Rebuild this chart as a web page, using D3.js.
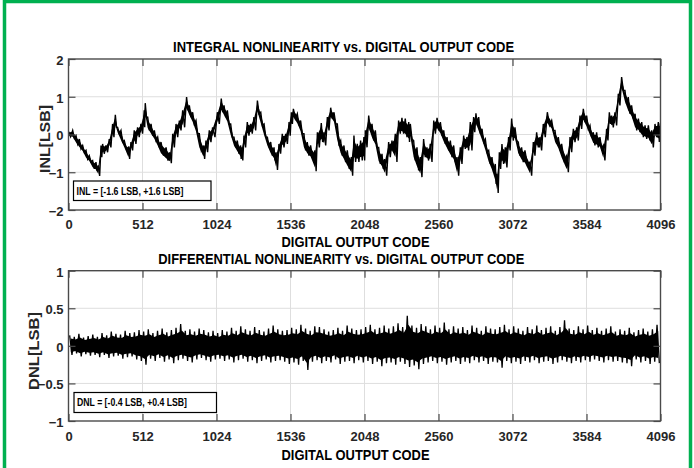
<!DOCTYPE html>
<html><head><meta charset="utf-8">
<script src="https://cdn.jsdelivr.net/npm/d3@7"></script>
<style>
body{margin:0;background:#fff}
svg{display:block}
text{font-family:"Liberation Sans",Arial,Helvetica,sans-serif;font-weight:bold}
</style>
</head><body>
<svg id="c" width="694" height="468"></svg>
<script>
// ---------------- DATA ----------------
const xTicks = [0, 512, 1024, 1536, 2048, 2560, 3072, 3584, 4096];
const inlYTicks = [-2, -1, 0, 1, 2];
const dnlYTicks = [-1, -0.5, 0, 0.5, 1];
const inlTitle = "INTEGRAL NONLINEARITY vs. DIGITAL OUTPUT CODE";
const dnlTitle = "DIFFERENTIAL NONLINEARITY vs. DIGITAL OUTPUT CODE";
const xLabel = "DIGITAL OUTPUT CODE";
const inlLegend = "INL = [-1.6 LSB, +1.6 LSB]";
const dnlLegend = "DNL = [-0.4 LSB, +0.4 LSB]";

// INL: code, upper and lower extent of the noisy trace
const inlCode = [0,29,52,75,98,121,144,167,190,206,225,236,259,282,305,324,340,363,386,414,432,455,478,501,524,531,548,571,594,617,640,675,702,721,744,767,790,817,836,859,882,905,933,951,974,997,
1030,1057,1076,1099,1122,1145,1168,1191,1198,1214,1237,1260,1283,1307,1330,1353,1376,1399,1422,1436,1456,1479,1503,1526,1542,1556,1583,1606,1629,1652,1675,1705,1722,1749,1768,1791,1814,1837,1860,1883,1906,1929,1957,1975,1998,2021,2044,
2054,2077,2100,2123,2146,2169,2188,2215,2238,2261,2284,2307,2330,2354,2365,2388,2411,2434,2457,2480,2503,2527,2550,2573,2596,2619,2642,2665,2688,2711,2734,2757,2780,2803,2819,2838,2861,2884,2907,2930,2953,2965,2981,2999,3022,3045,
3066,3089,3112,3135,3158,3193,3216,3239,3262,3285,3313,3343,3366,3389,3412,3447,3470,3493,3516,3539,3562,3585,3608,3631,3654,3677,3700,3723,3742,3758,3781,3804,3827,3850,3873,3896,3920,3943,3966,3989,4012,4035,4058,4081,4095];
const inlHi = [0.08,0.11,-0.03,-0.12,-0.29,-0.42,-0.56,-0.69,-0.73,-0.82,-0.29,-0.25,-0.29,-0.12,0.28,0.52,0.19,0.11,-0.16,-0.34,-0.20,0.11,0.19,0.28,0.64,0.83,0.46,0.28,0.11,-0.07,-0.20,-0.34,-0.47,0.02,0.28,0.37,0.64,0.99,0.77,0.59,0.37,0.02,-0.29,-0.16,0.11,0.19,
0.59,0.95,0.77,0.64,0.28,-0.07,-0.16,-0.29,-0.34,-0.03,0.33,0.28,0.46,0.90,0.59,0.28,-0.07,-0.20,-0.34,-0.47,-0.25,0.02,0.02,0.33,0.59,0.68,0.55,0.37,0.02,-0.20,-0.29,-0.42,0.06,0.30,0.06,0.46,0.71,0.59,0.28,-0.16,-0.29,-0.42,-0.60,-0.03,-0.25,-0.16,-0.07,
0.11,0.50,0.28,0.11,-0.34,-0.51,-0.65,-0.20,-0.16,0.02,0.37,0.44,0.42,0.33,0.28,-0.16,-0.34,-0.60,-0.12,-0.34,-0.25,0.37,0.44,0.33,0.11,-0.07,-0.16,-0.29,-0.60,-0.34,-0.03,-0.07,0.33,0.46,0.56,0.46,0.15,-0.12,-0.42,-0.60,-0.78,-1.04,-0.47,-0.25,-0.34,-0.07,
0.42,0.19,-0.20,-0.34,-0.42,-0.73,-0.20,0.06,-0.07,0.28,0.59,0.37,0.11,-0.07,-0.25,-0.56,-0.07,0.15,0.19,0.50,0.68,0.50,0.24,0.06,0.06,-0.07,-0.29,0.15,0.59,0.50,0.59,1.08,1.52,1.17,0.99,0.77,0.55,0.42,0.33,0.24,0.24,0.11,0.28,0.33,0.30];
const inlLo = [-0.06,-0.10,-0.25,-0.38,-0.47,-0.65,-0.73,-0.91,-0.97,-1.10,-0.60,-0.51,-0.47,-0.34,-0.07,0.19,0.02,-0.20,-0.38,-0.65,-0.42,-0.25,-0.07,0.02,0.19,0.46,0.11,-0.03,-0.16,-0.34,-0.56,-0.69,-0.76,-0.34,-0.07,0.11,0.19,0.64,0.46,0.28,0.02,-0.42,-0.65,-0.47,-0.20,-0.07,
0.28,0.59,0.46,0.28,-0.07,-0.34,-0.51,-0.65,-0.69,-0.34,-0.03,0.02,0.11,0.55,0.24,-0.07,-0.34,-0.56,-0.69,-0.94,-0.51,-0.34,-0.25,-0.03,0.28,0.42,0.24,0.02,-0.42,-0.56,-0.65,-0.97,-0.34,-0.20,-0.29,0.11,0.42,0.28,-0.25,-0.56,-0.73,-0.91,-1.09,-0.73,-0.73,-0.69,-0.69,
-0.34,0.11,-0.16,-0.34,-0.78,-0.91,-1.09,-0.60,-0.47,-0.73,0.02,0.02,-0.07,-0.20,-0.12,-0.69,-0.95,-1.13,-0.60,-0.69,-0.73,0.02,0.11,-0.03,-0.25,-0.42,-0.60,-0.73,-1.09,-0.78,-0.38,-0.42,-0.42,0.06,0.24,0.02,-0.20,-0.47,-0.78,-1.00,-1.31,-1.55,-0.91,-0.78,-0.87,-0.42,
-0.16,-0.16,-0.56,-0.73,-0.82,-1.09,-0.56,-0.34,-0.42,-0.07,0.24,0.11,-0.25,-0.42,-0.69,-1.00,-0.47,-0.20,-0.16,0.15,0.33,0.15,-0.07,-0.29,-0.34,-0.38,-0.69,-0.16,0.28,0.19,0.24,0.77,1.17,0.81,0.55,0.42,0.11,0.06,-0.07,-0.12,-0.16,-0.34,-0.07,-0.20,-0.10];

// DNL: upper and lower extent per 32-code bin
const dnlBin = 32;
const dnlHi = [0.14,0.12,0.16,0.11,0.13,0.15,0.12,0.17,0.14,0.19,0.16,0.15,0.20,0.17,0.18,0.21,
0.19,0.22,0.17,0.20,0.23,0.18,0.21,0.24,0.29,0.20,0.22,0.19,0.23,0.21,0.18,0.20,
0.17,0.21,0.19,0.24,0.20,0.26,0.22,0.20,0.25,0.21,0.19,0.23,0.27,0.22,0.20,0.21,
0.24,0.22,0.28,0.23,0.20,0.26,0.25,0.22,0.19,0.21,0.24,0.20,0.27,0.23,0.21,0.22,
0.25,0.28,0.22,0.24,0.27,0.23,0.26,0.30,0.25,0.40,0.27,0.24,0.29,0.26,0.22,0.27,
0.24,0.31,0.22,0.26,0.23,0.25,0.21,0.27,0.24,0.20,0.26,0.23,0.22,0.25,0.28,0.22,
0.26,0.23,0.20,0.25,0.22,0.27,0.21,0.24,0.26,0.20,0.25,0.34,0.23,0.21,0.26,0.22,
0.27,0.21,0.24,0.20,0.23,0.26,0.19,0.22,0.20,0.24,0.18,0.21,0.23,0.19,0.22,0.28];
const dnlLo = [-0.12,-0.10,-0.14,-0.11,-0.13,-0.12,-0.15,-0.12,-0.16,-0.14,-0.13,-0.17,-0.15,-0.14,-0.18,-0.20,
-0.25,-0.17,-0.20,-0.16,-0.21,-0.18,-0.23,-0.19,-0.17,-0.20,-0.22,-0.18,-0.16,-0.19,-0.21,-0.18,
-0.17,-0.20,-0.18,-0.22,-0.19,-0.17,-0.21,-0.19,-0.23,-0.20,-0.18,-0.22,-0.20,-0.19,-0.21,-0.24,
-0.22,-0.25,-0.20,-0.32,-0.21,-0.19,-0.23,-0.20,-0.22,-0.18,-0.24,-0.21,-0.20,-0.23,-0.19,-0.22,
-0.20,-0.24,-0.21,-0.27,-0.23,-0.22,-0.25,-0.21,-0.24,-0.28,-0.26,-0.31,-0.24,-0.22,-0.20,-0.23,
-0.21,-0.25,-0.22,-0.20,-0.24,-0.21,-0.23,-0.19,-0.22,-0.20,-0.24,-0.21,-0.22,-0.29,-0.20,-0.23,
-0.21,-0.24,-0.20,-0.22,-0.19,-0.23,-0.21,-0.20,-0.24,-0.22,-0.19,-0.21,-0.23,-0.20,-0.22,-0.19,
-0.21,-0.18,-0.20,-0.22,-0.19,-0.21,-0.20,-0.22,-0.23,-0.27,-0.18,-0.22,-0.20,-0.24,-0.21,-0.23];

// ---------------- DRAW ----------------
const svg = d3.select("#c");
const ink = "#262626";

// green frame
svg.append("rect").attr("x", 4.5).attr("y", 1.5).attr("width", 686).attr("height", 470)
  .attr("fill", "none").attr("stroke", "#00b050").attr("stroke-width", 3.5);

const x = d3.scaleLinear().domain([0, 4096]).range([68.5, 660.5]);

function fit(sel, w) { return sel.attr("textLength", w).attr("lengthAdjust", "spacingAndGlyphs"); }

function panel(cfg) {
  const y = d3.scaleLinear().domain(cfg.domain).range([cfg.y1, cfg.y0]);
  const g = svg.append("g");
  const clipId = cfg.id + "clip";
  svg.append("clipPath").attr("id", clipId).append("rect")
    .attr("x", x(0)).attr("y", cfg.y0).attr("width", x(4096) - x(0)).attr("height", cfg.y1 - cfg.y0);

  // grid
  g.append("g").selectAll("line").data(xTicks.slice(1, -1)).join("line")
    .attr("x1", d => x(d)).attr("x2", d => x(d)).attr("y1", cfg.y0).attr("y2", cfg.y1)
    .attr("stroke", "#dedede").attr("stroke-width", 1);
  g.append("g").selectAll("line").data(cfg.yTicks.slice(1, -1)).join("line")
    .attr("y1", d => y(d)).attr("y2", d => y(d)).attr("x1", x(0)).attr("x2", x(4096))
    .attr("stroke", "#dedede").attr("stroke-width", 1);

  // data
  const dg = g.append("g").attr("clip-path", `url(#${clipId})`);
  cfg.drawData(dg, y);

  // box
  g.append("rect").attr("x", x(0)).attr("y", cfg.y0).attr("width", x(4096) - x(0)).attr("height", cfg.y1 - cfg.y0)
    .attr("fill", "none").attr("stroke", "#4a4a4a").attr("stroke-width", 1.4);

  // inward ticks (bottom/top/left/right)
  const axB = d3.axisBottom(x).tickValues(xTicks).tickSizeInner(-7).tickSizeOuter(0).tickPadding(9).tickFormat(d3.format("d"));
  const gb = g.append("g").attr("transform", `translate(0,${cfg.y1})`).call(axB);
  const axT = d3.axisTop(x).tickValues(xTicks).tickSizeInner(-7).tickSizeOuter(0).tickFormat("");
  const gt = g.append("g").attr("transform", `translate(0,${cfg.y0})`).call(axT);
  const axL = d3.axisLeft(y).tickValues(cfg.yTicks).tickSizeInner(-7).tickSizeOuter(0).tickPadding(5).tickFormat(cfg.yFmt);
  const gl = g.append("g").attr("transform", `translate(${x(0)},0)`).call(axL);
  const axR = d3.axisRight(y).tickValues(cfg.yTicks).tickSizeInner(-7).tickSizeOuter(0).tickFormat("");
  const gr = g.append("g").attr("transform", `translate(${x(4096)},0)`).call(axR);
  [gb, gt, gl, gr].forEach(a => {
    a.select(".domain").remove();
    a.selectAll(".tick line").attr("stroke", "#4a4a4a").attr("stroke-width", 1.2);
    a.selectAll(".tick text").attr("fill", ink).attr("font-size", 13).attr("font-weight", "bold")
      .attr("font-family", '"Liberation Sans", Arial, sans-serif');
  });
  gb.selectAll(".tick text").attr("dy", null).attr("y", 0).attr("transform", `translate(0,${cfg.xTickBase - cfg.y1})`);
  gl.selectAll(".tick text").attr("dy", "0.42em");

  // titles
  fit(svg.append("text").attr("x", cfg.titleX).attr("y", cfg.titleY).attr("text-anchor", "middle")
    .attr("font-size", 15).attr("fill", "#000").text(cfg.title), cfg.titleW);
  fit(svg.append("text").attr("x", 355.5).attr("y", cfg.xlabY).attr("text-anchor", "middle")
    .attr("font-size", 15).attr("fill", "#000").text(xLabel), 148);
  fit(svg.append("text").attr("transform", `translate(${cfg.ylabX},${cfg.ylabY}) rotate(-90)`)
    .attr("text-anchor", "middle").attr("font-size", 15).attr("fill", ink).text(cfg.ylab), cfg.ylabW);

  // legend box
  svg.append("rect").attr("x", cfg.leg[0]).attr("y", cfg.leg[1]).attr("width", cfg.leg[2]).attr("height", cfg.leg[3])
    .attr("fill", "#fff").attr("stroke", "#000").attr("stroke-width", 1.2);
  fit(svg.append("text").attr("x", cfg.leg[0] + 3).attr("y", cfg.leg[1] + 13.5)
    .attr("font-size", 10.5).attr("fill", "#000").text(cfg.legText), cfg.legW);
}

// INL panel
panel({
  id: "inl", domain: [-2, 2], y0: 59, y1: 210, yTicks: inlYTicks, yFmt: d3.format("d"),
  xTickBase: 228.5, title: inlTitle, titleX: 343.6, titleY: 51.5, titleW: 341, xlabY: 246.5,
  ylab: "INL[LSB]", ylabX: 50, ylabY: 139, ylabW: 68,
  leg: [73.5, 181, 137.5, 19.5], legText: inlLegend, legW: 107,
  drawData: (dg, y) => {
    const pts = inlCode.map((c, i) => ({ c, hi: inlHi[i], lo: inlLo[i] }));
    const core = d3.area().x(d => x(d.c))
      .y0(d => y(0.82 * d.lo + 0.18 * d.hi)).y1(d => y(0.82 * d.hi + 0.18 * d.lo));
    dg.append("path").attr("d", core(pts)).attr("fill", "#000");
    const zz = [];
    pts.forEach((d, i) => {
      const nx = i < pts.length - 1 ? pts[i + 1].c : d.c;
      zz.push([x(d.c), y(d.hi)]);
      zz.push([x((d.c + nx) / 2), y(d.lo)]);
    });
    dg.append("path").attr("d", d3.line()(zz)).attr("fill", "none").attr("stroke", "#000").attr("stroke-width", 1.4);
  }
});

// DNL panel
panel({
  id: "dnl", domain: [-1, 1], y0: 270.7, y1: 421, yTicks: dnlYTicks, yFmt: d => d3.format("")(d),
  xTickBase: 440.5, title: dnlTitle, titleX: 341.3, titleY: 264, titleW: 366, xlabY: 459.5,
  ylab: "DNL[LSB]", ylabX: 38.5, ylabY: 351, ylabW: 78,
  leg: [74, 392.5, 142.5, 20], legText: dnlLegend, legW: 110,
  drawData: (dg, y) => {
    const pts = dnlHi.map((h, i) => ({ c: i * dnlBin, hi: h, lo: dnlLo[i] }));
    const core = d3.area().x(d => x(d.c + dnlBin / 2)).y0(d => y(0.7 * d.lo)).y1(d => y(0.7 * d.hi));
    dg.append("path").attr("d", core(pts)).attr("fill", "#000");
    const zz = [];
    pts.forEach(d => {
      zz.push([x(d.c + dnlBin * 0.25), y(d.hi)]);
      zz.push([x(d.c + dnlBin * 0.75), y(d.lo)]);
    });
    dg.append("path").attr("d", d3.line()(zz)).attr("fill", "none").attr("stroke", "#000").attr("stroke-width", 1.3);
  }
});
</script>
</body></html>
